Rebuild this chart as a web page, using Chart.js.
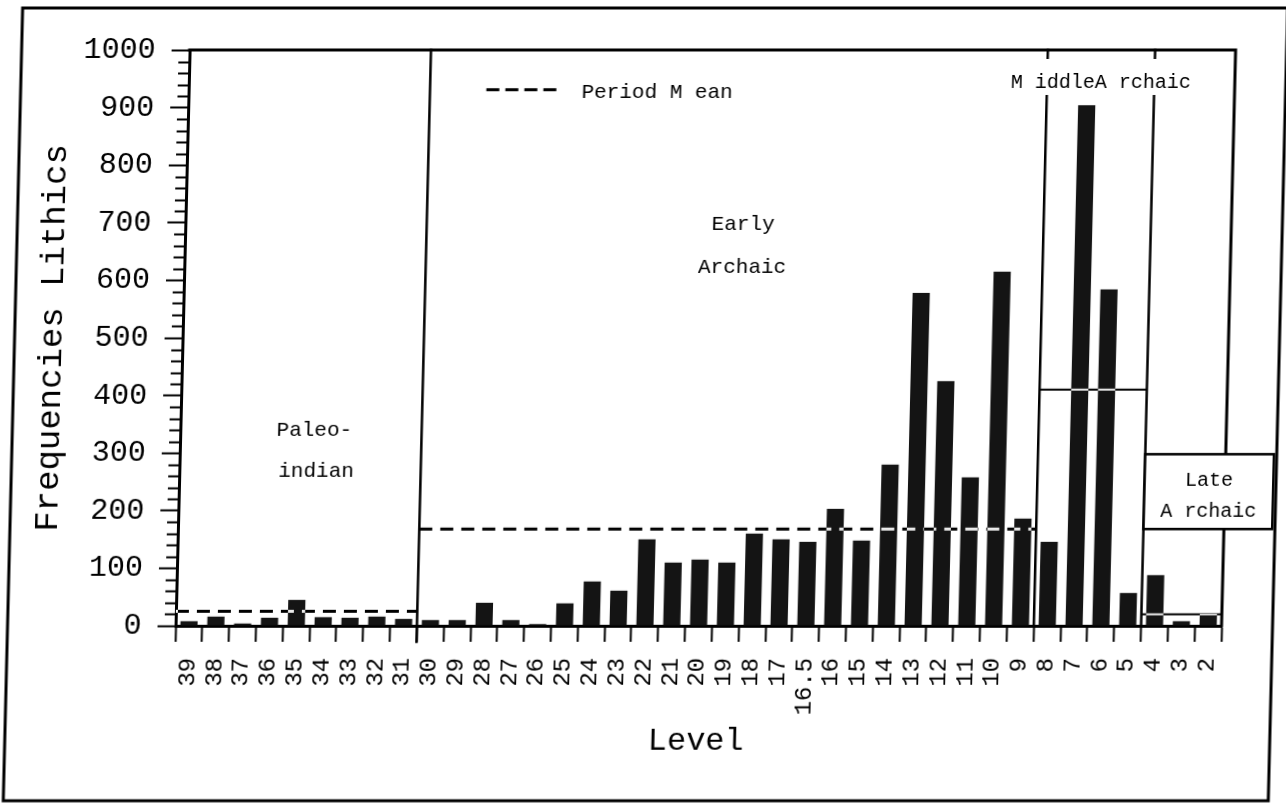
<!DOCTYPE html>
<html>
<head>
<meta charset="utf-8">
<title>Frequencies Lithics</title>
<script src="https://cdn.jsdelivr.net/npm/chart.js@4"></script>
<style>
    body { margin: 0; background: #fff; }
    /* the printed figure leans a little to the right */
    #myChart { display: block; transform: skewX(-1.4deg); transform-origin: 50% 50%; }
</style>
</head>
<body>
<canvas id="myChart" width="1286" height="805"></canvas>
<script>
// levels, deepest first
const levels = ['39','38','37','36','35','34','33','32','31','30','29','28','27','26','25','24','23','22','21','20',
                '19','18','17','16.5','16','15','14','13','12','11','10','9','8','7','6','5','4','3','2']
const lithics = [8,16,4,14,45,15,14,16,12,
                 10,10,40,10,3,39,77,61,150,110,115,110,160,150,146,203,148,280,578,425,258,615,186,
                 146,904,584,57,
                 88,8,22]

// periods: first and last level of each one, and the mean drawn across it
const periodFirst = ['39','30','8','4']
const periodLast = ['31','9','5','2']
const periodMean = [25, 168, 410, 20]

const yMax = 1000
const yStep = 100
const yMinorStep = 20

const meanDash = [[13, 8], [13, 8], [], []]
const meanWidth = [3, 3, 2, 2]

Chart.defaults.font.family = "'Liberation Mono', monospace"
Chart.defaults.color = '#000'

let datasets = [{
    type: 'bar',
    label: 'Lithics',
    data: lithics,
    backgroundColor: '#141414',
    barPercentage: 0.64,
    categoryPercentage: 1,
    grouped: false,
    order: 2
}]

periodMean.forEach((m, k) => {
    datasets.push({
        type: 'line',
        label: 'Period Mean',
        xAxisID: 'xLin',
        data: [{x: levels.indexOf(periodFirst[k]) - 0.5, y: m},
               {x: levels.indexOf(periodLast[k]) + 0.5, y: m}],
        borderColor: '#fff',
        borderWidth: meanWidth[k],
        borderDash: meanDash[k],
        pointRadius: 0,
        order: 1
    })
})

function label(ctx, text, x, y, size) {
    ctx.font = size + "px 'Liberation Mono', monospace"
    ctx.textAlign = 'center'
    ctx.textBaseline = 'middle'
    ctx.fillStyle = '#000'
    ctx.fillText(text, x, y)
}

const decor = {
    id: 'decor',
    beforeDraw(chart) {
        let ctx = chart.ctx
        ctx.save()
        ctx.fillStyle = '#fff'
        ctx.fillRect(0, 0, chart.width, chart.height)
        ctx.restore()
    },
    // mean lines invert what is under them: black on paper, white on bars
    beforeDatasetDraw(chart, args) {
        if (args.meta.type === 'line') chart.ctx.globalCompositeOperation = 'difference'
    },
    afterDatasetDraw(chart) {
        chart.ctx.globalCompositeOperation = 'source-over'
    },
    afterDraw(chart) {
        let ctx = chart.ctx
        let a = chart.chartArea
        let xs = chart.scales.xLin
        let ys = chart.scales.y
        ctx.save()
        ctx.strokeStyle = '#000'
        ctx.lineCap = 'square'

        // top and right edges of the plot
        ctx.lineWidth = 3
        ctx.beginPath()
        ctx.moveTo(a.left, a.top)
        ctx.lineTo(a.right, a.top)
        ctx.lineTo(a.right, a.bottom)
        ctx.stroke()

        // minor ticks on the y axis
        ctx.lineWidth = 2
        ctx.beginPath()
        for (let v = 0; v <= yMax; v += yMinorStep) {
            if (v % yStep === 0) continue
            let py = Math.round(ys.getPixelForValue(v)) + 0.5
            ctx.moveTo(a.left - 10, py)
            ctx.lineTo(a.left, py)
        }
        ctx.stroke()

        // period boundaries
        ctx.lineWidth = 2.5
        let bx = []
        for (let k = 1; k < periodFirst.length; k++) {
            let px = xs.getPixelForValue(levels.indexOf(periodFirst[k]) - 0.5)
            bx.push(px)
            ctx.beginPath()
            ctx.moveTo(px, a.top)
            ctx.lineTo(px, k === 1 ? a.bottom + 16 : a.bottom)
            ctx.stroke()
        }

        // period names
        label(ctx, 'Paleo-', xs.getPixelForValue(4.5), ys.getPixelForValue(340), 21)
        label(ctx, 'indian', xs.getPixelForValue(4.6), ys.getPixelForValue(269), 21)
        label(ctx, 'Early', xs.getPixelForValue(20.3), ys.getPixelForValue(698), 21)
        label(ctx, 'Archaic', xs.getPixelForValue(20.3), ys.getPixelForValue(623), 21)

        let midX = (bx[1] + bx[2]) / 2
        ctx.fillStyle = '#fff'
        ctx.fillRect(midX - 92, a.top + 9, 184, 36)
        label(ctx, 'M iddleA rchaic', midX, ys.getPixelForValue(943), 20)

        // Late Archaic box, hanging past the right edge
        let bl = bx[2], br = xs.getPixelForValue(40.3)
        let bt = ys.getPixelForValue(298), bb = ys.getPixelForValue(168)
        ctx.fillStyle = '#fff'
        ctx.fillRect(bl, bt, br - bl, bb - bt)
        ctx.lineWidth = 2.5
        ctx.strokeRect(bl, bt, br - bl, bb - bt)
        label(ctx, 'Late', (bl + br) / 2, ys.getPixelForValue(253), 20)
        label(ctx, 'A rchaic', (bl + br) / 2, ys.getPixelForValue(198), 20)

        // legend
        let ly = ys.getPixelForValue(931)
        ctx.lineWidth = 3
        ctx.setLineDash([13, 6])
        ctx.lineCap = 'butt'
        ctx.beginPath()
        ctx.moveTo(xs.getPixelForValue(10.6), ly)
        ctx.lineTo(xs.getPixelForValue(13.3), ly)
        ctx.stroke()
        ctx.setLineDash([])
        ctx.font = "21px 'Liberation Mono', monospace"
        ctx.textAlign = 'left'
        ctx.textBaseline = 'middle'
        ctx.fillStyle = '#000'
        ctx.fillText('Period M ean', xs.getPixelForValue(14.15), ly + 3)

        // page frame
        ctx.lineWidth = 3
        ctx.strokeRect(13, 8, 1265, 793)
        ctx.restore()
    }
}

const ctx = document.getElementById('myChart')

const myChart = new Chart(ctx, {
    type: 'bar',
    data: {
        labels: levels,
        datasets: datasets
    },
    options: {
        responsive: false,
        devicePixelRatio: 1,
        animation: false,
        layout: { padding: { left: 0, top: 50, right: 59, bottom: 0 } },
        plugins: {
            legend: { display: false },
            tooltip: { enabled: false }
        },
        scales: {
            x: {
                offset: true,
                ticks: { font: { size: 24 }, minRotation: 90, maxRotation: 90, autoSkip: false, padding: 16, color: '#000' },
                grid: { offset: true, drawOnChartArea: false, tickLength: 16, tickWidth: 2, tickColor: '#000' },
                border: { color: '#000', width: 3 },
                title: { display: true, text: 'Level', font: { size: 32 }, padding: { bottom: 44 }, color: '#000' },
                afterFit(scale) { scale.height = 179 }
            },
            xLin: {
                type: 'linear',
                display: false,
                offset: false,
                grid: { offset: false },
                min: -0.5,
                max: levels.length - 0.5
            },
            y: {
                min: 0,
                max: yMax,
                ticks: { stepSize: yStep, font: { size: 30 }, padding: 16, color: '#000',
                         callback: (v) => String(v) },
                grid: { drawOnChartArea: false, tickLength: 18, tickWidth: 2, tickColor: '#000' },
                border: { color: '#000', width: 3 },
                title: { display: true, text: 'Frequencies Lithics', font: { size: 34 }, padding: { top: 31 }, color: '#000' },
                afterFit(scale) { scale.width = 181 }
            }
        }
    },
    plugins: [decor]
})
</script>
</body>
</html>
